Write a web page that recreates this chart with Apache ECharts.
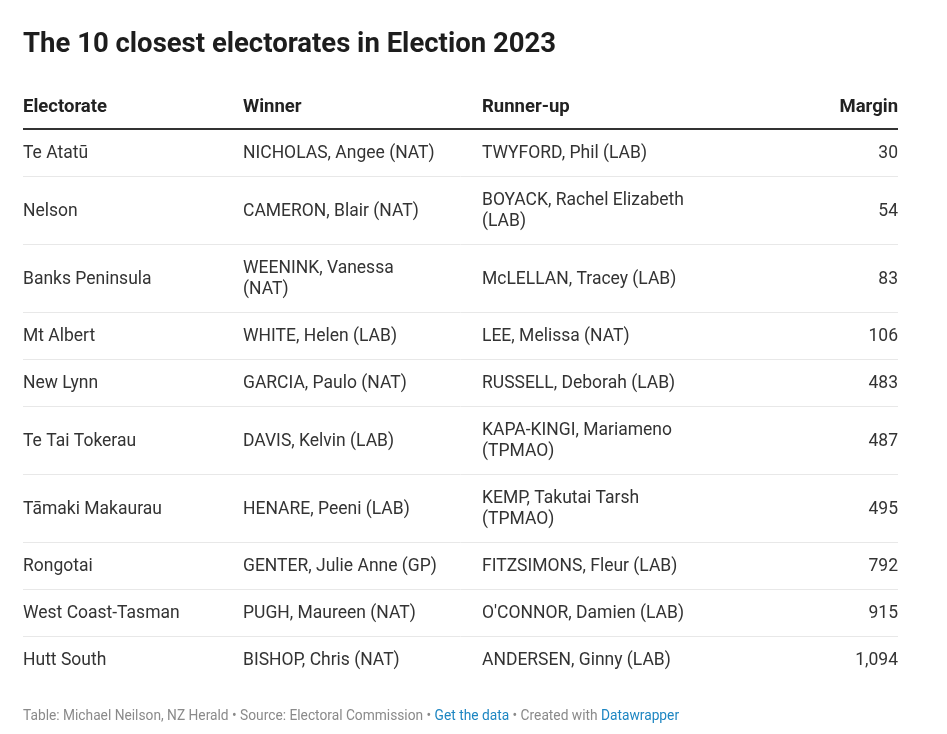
<!DOCTYPE html>
<html>
<head>
<meta charset="utf-8">
<script src="https://cdn.jsdelivr.net/npm/echarts@6/dist/echarts.min.js"></script>
<style>
html,body{margin:0;padding:0;background:#fff;}
#chart{width:947px;height:734px;}
</style>
</head>
<body>
<div id="chart"></div>
<script>
// ---- data ----
const headers = ['Electorate', 'Winner', 'Runner-up', 'Margin'];
const electorates = ['Te Atatū', 'Nelson', 'Banks Peninsula', 'Mt Albert', 'New Lynn', 'Te Tai Tokerau', 'Tāmaki Makaurau', 'Rongotai', 'West Coast-Tasman', 'Hutt South'];
const winners = ['NICHOLAS, Angee (NAT)', 'CAMERON, Blair (NAT)', 'WEENINK, Vanessa\n(NAT)', 'WHITE, Helen (LAB)', 'GARCIA, Paulo (NAT)', 'DAVIS, Kelvin (LAB)', 'HENARE, Peeni (LAB)', 'GENTER, Julie Anne (GP)', 'PUGH, Maureen (NAT)', 'BISHOP, Chris (NAT)'];
const runnersUp = ['TWYFORD, Phil (LAB)', 'BOYACK, Rachel Elizabeth\n(LAB)', 'McLELLAN, Tracey (LAB)', 'LEE, Melissa (NAT)', 'RUSSELL, Deborah (LAB)', 'KAPA-KINGI, Mariameno\n(TPMAO)', 'KEMP, Takutai Tarsh\n(TPMAO)', 'FITZSIMONS, Fleur (LAB)', "O'CONNOR, Damien (LAB)", 'ANDERSEN, Ginny (LAB)'];
const margins = [30, 54, 83, 106, 483, 487, 495, 792, 915, 1094];

// ---- layout (style, not data) ----
const FONT = 'Roboto, "Noto Sans", sans-serif';
const colStart = [0, 220, 459, 875];
const colAlign = ['left', 'left', 'left', 'right'];
const headerH = 49, baseRowH = 47, lineH = 21;

const rowLines = electorates.map((e, i) =>
  Math.max(e.split('\n').length, winners[i].split('\n').length, runnersUp[i].split('\n').length));
const rowBounds = [];
let acc = 0;
rowLines.forEach(n => { const h = baseRowH + lineH * (n - 1); rowBounds.push([acc, acc + h]); acc += h; });
const total = acc;

const bodyData = electorates.map((e, i) => [i, rowBounds[i][0], rowBounds[i][1]]);

function cellTexts(i) {
  return [electorates[i], winners[i], runnersUp[i], margins[i].toLocaleString('en-US')];
}

const chart = echarts.init(document.getElementById('chart'), null, { renderer: 'canvas' });
chart.setOption({
  backgroundColor: '#ffffff',
  animation: false,
  title: [{
    text: 'The 10 closest electorates in Election 2023',
    left: 23, top: 31, padding: 0,
    textStyle: { fontFamily: FONT, fontSize: 27.5, fontWeight: 'bold', color: '#1d1d1d' }
  }, {
    text: '{g|Table: Michael Neilson, NZ Herald • Source: Electoral Commission • }{b|Get the data}{g| • Created with }{b|Datawrapper}',
    left: 23, top: 710, padding: 0,
    textStyle: {
      rich: {
        g: { fontFamily: FONT, fontSize: 13.75, fontWeight: 'normal', color: '#8a8a8a' },
        b: { fontFamily: FONT, fontSize: 13.75, fontWeight: 'normal', color: '#1d86c2' }
      }
    }
  }],
  grid: { left: 23, width: 875, top: 80, height: headerH + total },
  xAxis: { type: 'value', min: 0, max: 875, show: false },
  yAxis: { type: 'value', inverse: true, min: -headerH, max: total, show: false },
  series: [{
    type: 'custom',
    name: 'header',
    data: [[0]],
    renderItem: function (params, api) {
      const children = [];
      const yMid = api.coord([0, -headerH / 2 + 3])[1];
      headers.forEach((h, c) => {
        const x = api.coord([colStart[c], 0])[0];
        children.push({
          type: 'text',
          style: {
            text: h, x: x, y: yMid, align: colAlign[c], verticalAlign: 'middle',
            font: 'bold 18.5px ' + FONT, fill: '#222222'
          }
        });
      });
      const p0 = api.coord([0, 0]), p1 = api.coord([875, 0]);
      children.push({
        type: 'line',
        shape: { x1: p0[0], y1: p0[1], x2: p1[0], y2: p1[1] },
        style: { stroke: '#333333', lineWidth: 2 }
      });
      return { type: 'group', children: children };
    }
  }, {
    type: 'custom',
    name: 'rows',
    data: bodyData,
    renderItem: function (params, api) {
      const i = api.value(0);
      const top = api.value(1), bottom = api.value(2);
      const yMid = api.coord([0, (top + bottom) / 2 + 1.5])[1];
      const texts = cellTexts(i);
      const children = [];
      texts.forEach((t, c) => {
        const x = api.coord([colStart[c], 0])[0];
        children.push({
          type: 'text',
          style: {
            text: t, x: x, y: yMid, align: colAlign[c], verticalAlign: 'middle',
            font: '17.5px ' + FONT, fill: '#333333', lineHeight: lineH
          }
        });
      });
      if (i < electorates.length - 1) {
        const p0 = api.coord([0, bottom]), p1 = api.coord([875, bottom]);
        children.push({
          type: 'line',
          shape: { x1: p0[0], y1: Math.round(p0[1]) + 0.5, x2: p1[0], y2: Math.round(p1[1]) + 0.5 },
          style: { stroke: '#e8e8e8', lineWidth: 1 }
        });
      }
      return { type: 'group', children: children };
    }
  }]
});
</script>
</body>
</html>
